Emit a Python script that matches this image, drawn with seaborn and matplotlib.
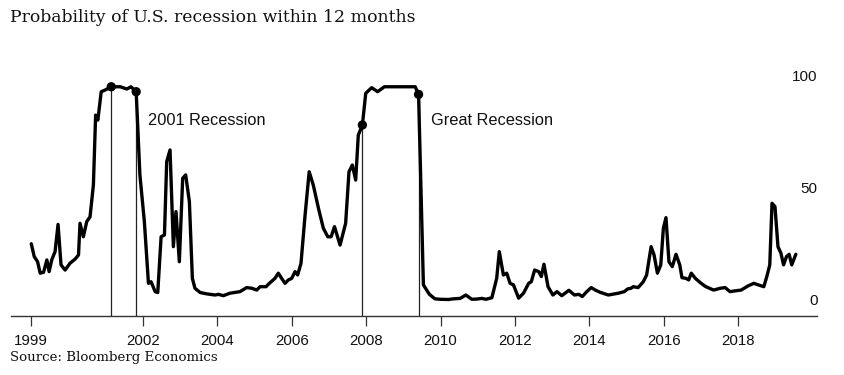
import numpy as np
import matplotlib
matplotlib.use('Agg')
import matplotlib.pyplot as plt
import seaborn as sns

# recession probability (decimal year, percent)
dates = [1999.00, 1999.08, 1999.17, 1999.24, 1999.33, 1999.42, 1999.48, 1999.55,
         1999.64, 1999.72, 1999.80, 1999.91, 2000.04, 2000.18, 2000.27, 2000.31,
         2000.40, 2000.49, 2000.58, 2000.67, 2000.73, 2000.79, 2000.88, 2000.98,
         2001.15, 2001.39, 2001.57, 2001.68, 2001.82, 2001.92, 2002.04, 2002.15,
         2002.22, 2002.33, 2002.40, 2002.49, 2002.58, 2002.64, 2002.73, 2002.82,
         2002.89, 2002.98, 2003.07, 2003.15, 2003.25, 2003.33, 2003.40, 2003.54,
         2003.72, 2003.94, 2004.03, 2004.16, 2004.34, 2004.61, 2004.79, 2004.93,
         2005.06, 2005.15, 2005.31, 2005.40, 2005.55, 2005.64, 2005.73, 2005.82,
         2005.91, 2006.00, 2006.09, 2006.16, 2006.25, 2006.36, 2006.47, 2006.58,
         2006.72, 2006.85, 2006.97, 2007.06, 2007.15, 2007.30, 2007.45, 2007.54,
         2007.63, 2007.72, 2007.79, 2007.90, 2007.99, 2008.15, 2008.31, 2008.49,
         2009.32, 2009.41, 2009.54, 2009.70, 2009.85, 2009.99, 2010.21, 2010.35,
         2010.53, 2010.68, 2010.84, 2010.98, 2011.11, 2011.22, 2011.38, 2011.51,
         2011.58, 2011.69, 2011.78, 2011.87, 2011.96, 2012.10, 2012.23, 2012.37,
         2012.44, 2012.53, 2012.64, 2012.71, 2012.78, 2012.89, 2013.02, 2013.13,
         2013.26, 2013.45, 2013.60, 2013.72, 2013.81, 2013.93, 2014.05, 2014.16,
         2014.29, 2014.51, 2014.78, 2014.94, 2015.03, 2015.12, 2015.18, 2015.31,
         2015.45, 2015.54, 2015.66, 2015.74, 2015.83, 2015.92, 2015.99, 2016.06,
         2016.14, 2016.23, 2016.33, 2016.43, 2016.49, 2016.60, 2016.67, 2016.74,
         2016.85, 2016.99, 2017.12, 2017.34, 2017.52, 2017.65, 2017.78, 2017.90,
         2018.08, 2018.26, 2018.42, 2018.54, 2018.69, 2018.77, 2018.85, 2018.91,
         2018.99, 2019.07, 2019.15, 2019.22, 2019.30, 2019.37, 2019.44, 2019.55]
prob = [25.0, 19.3, 17.0, 11.9, 12.3, 17.8, 12.6, 17.8,
        21.5, 33.6, 15.6, 13.3, 16.3, 18.2, 20.0, 34.1,
        28.1, 34.8, 37.0, 51.1, 82.2, 80.0, 92.6, 93.3,
        94.8, 94.8, 93.8, 94.8, 92.6, 55.6, 34.8, 7.4,
        8.1, 3.7, 3.3, 28.1, 28.9, 61.5, 66.7, 23.7,
        39.3, 17.0, 54.1, 55.6, 43.7, 9.6, 5.2, 3.3,
        2.7, 2.2, 2.5, 1.9, 3.0, 3.7, 5.5, 5.2,
        4.4, 5.9, 5.9, 7.4, 9.6, 11.9, 9.6, 7.4,
        8.9, 9.6, 12.6, 11.1, 16.3, 37.8, 57.0, 51.1,
        40.7, 31.9, 28.1, 28.1, 32.6, 24.4, 34.1, 57.0,
        60.0, 53.3, 73.3, 77.8, 91.9, 94.4, 92.6, 94.8,
        94.8, 91.4, 6.7, 2.5, 0.5, 0.3, 0.2, 0.5,
        0.7, 2.2, 0.3, 0.4, 0.7, 0.3, 1.0, 9.6,
        21.5, 11.1, 11.9, 7.4, 6.7, 0.8, 3.0, 7.4,
        8.1, 13.3, 12.6, 10.4, 15.9, 5.9, 2.2, 3.7,
        1.9, 4.3, 2.2, 2.5, 1.5, 3.7, 5.5, 4.4,
        3.4, 2.2, 3.0, 3.7, 4.9, 5.2, 5.9, 5.5,
        8.1, 11.1, 23.7, 20.0, 11.9, 15.6, 31.9, 36.6,
        17.0, 14.8, 20.3, 15.6, 9.9, 9.6, 8.9, 11.9,
        9.6, 7.6, 6.0, 4.4, 5.2, 5.5, 3.7, 4.0,
        4.4, 6.2, 7.4, 6.7, 5.9, 10.4, 15.6, 43.0,
        41.5, 23.7, 20.8, 15.6, 19.3, 20.3, 15.6, 20.3]

# recession start / end dates
rec_dates = [2001.15, 2001.82, 2007.90, 2009.41]
rec_labels = ['2001 Recession', 'Great Recession']
rec_label_pos = [(2002.14, 79.6), (2009.74, 79.6)]

year_ticks = [1999, 2002, 2004, 2006, 2008, 2010, 2012, 2014, 2016, 2018]
y_ticks = [0, 50, 100]

sns.set_theme(style='white')
plt.rcParams['font.family'] = ['Liberation Sans', 'DejaVu Sans']

fig = plt.figure(figsize=(8.44, 3.75), dpi=100)
ax = fig.add_axes([10.8 / 844, 1 - 315.7 / 375, 806.6 / 844, 255.7 / 375])

rec_vals = [prob[dates.index(d)] for d in rec_dates]
ymin, ymax = -7, 106.7
ax.vlines(rec_dates, ymin, rec_vals, color='#222222', lw=0.9, zorder=1)

sns.lineplot(x=dates, y=prob, ax=ax, color='black', lw=2.4, zorder=3)
ax.lines[-1].set_solid_joinstyle('round')
sns.scatterplot(x=rec_dates, y=rec_vals, ax=ax, color='black', s=45,
                edgecolor='none', zorder=4)

for lab, (lx, ly) in zip(rec_labels, rec_label_pos):
    ax.text(lx, ly, lab, fontsize=11.8, color='#111111', va='center', ha='left')

ax.set_xlim(1998.45, 2020.13)
ax.set_ylim(ymin, ymax)
ax.set_xticks(year_ticks)
ax.set_xticklabels([str(y) for y in year_ticks], fontsize=10.8, color='#111111')
ax.set_yticks(y_ticks)
ax.yaxis.tick_right()
ax.set_yticklabels([str(v) for v in y_ticks], fontsize=11, color='#111111')
for lab in ax.get_yticklabels():
    lab.set_horizontalalignment('right')
    lab.set_verticalalignment('center_baseline')
ax.tick_params(axis='y', length=0, pad=0)
ax.tick_params(axis='x', bottom=True, length=7, width=0.9, color='#333333',
               pad=6, direction='out')

for s in ['top', 'left', 'right']:
    ax.spines[s].set_visible(False)
ax.spines['bottom'].set_color('#333333')
ax.spines['bottom'].set_linewidth(1.0)
ax.set_xlabel('')
ax.set_ylabel('')
ax.grid(False)

fig.text(10 / 844, 1 - 17 / 375, 'Probability of U.S. recession within 12 months',
         fontsize=12.4, family=['DejaVu Serif'],
         color='#111111', va='center', ha='left')
fig.text(10 / 844, 1 - 357 / 375, 'Source: Bloomberg Economics',
         fontsize=9.6, family=['DejaVu Serif'],
         color='#111111', va='center', ha='left')

fig.savefig('out.png', dpi=100)
